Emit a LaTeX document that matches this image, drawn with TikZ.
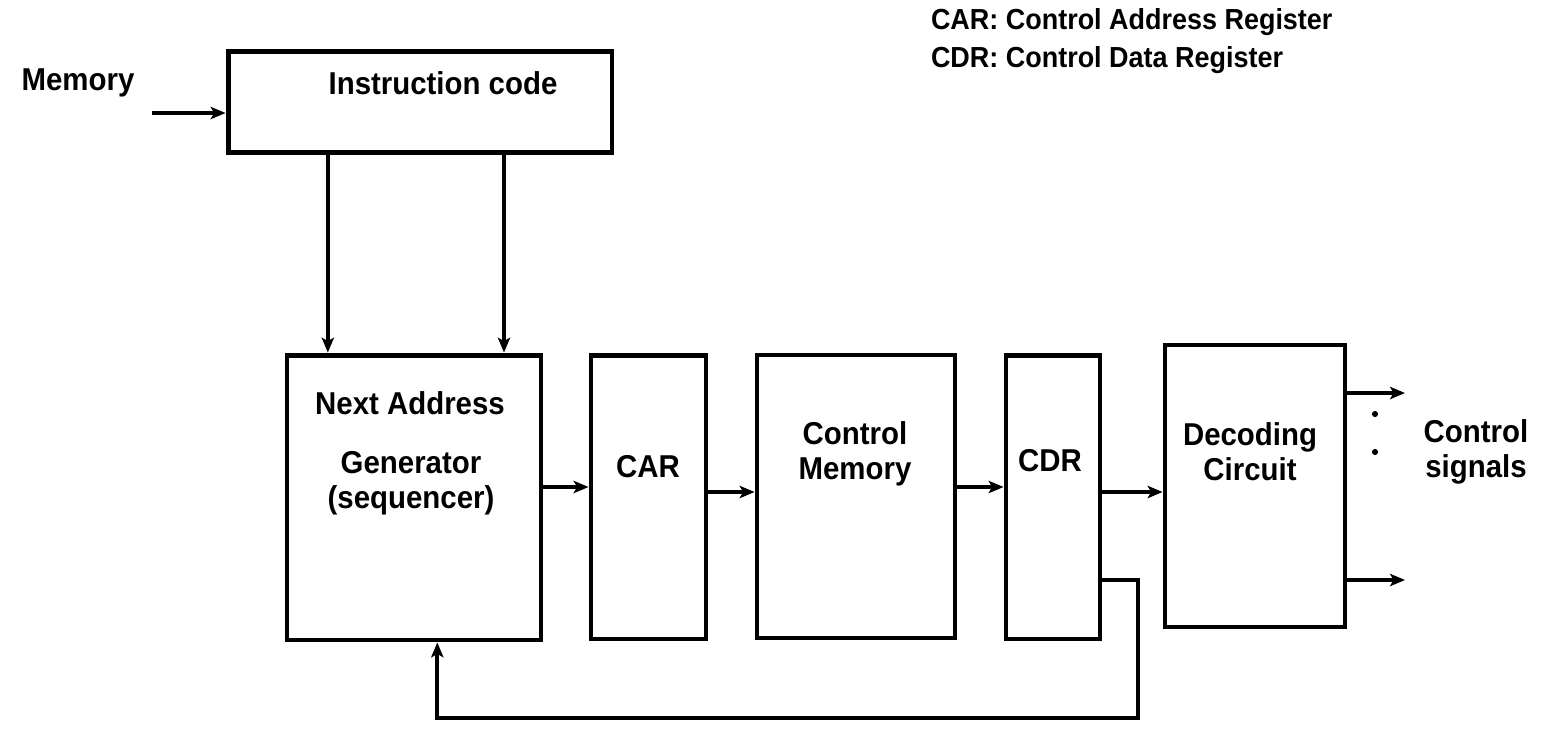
\documentclass[tikz,border=0pt]{standalone}
\usepackage{fontspec}
\setmainfont[FakeStretch=0.93]{Liberation Sans}
\usetikzlibrary{arrows,arrows.meta,positioning,calc}

\begin{document}
\begin{tikzpicture}[>={Stealth[length=8.5pt,width=7pt,inset=2pt]}, x=0.02cm, y=-0.02cm, line width=2.3pt,
    font=\fontsize{18}{20}\selectfont\bfseries]
  \tikzset{blk/.style={rectangle, draw=black, line width=2.8pt, inner sep=0pt},
           txt/.style={align=center, inner sep=0pt},
           dotn/.style={circle, fill=black, inner sep=0pt, minimum size=3.5pt}}
  \useasboundingbox (0,0) rectangle (1541,728);

  % blocks
  \node[blk, minimum width=7.68cm, minimum height=2.02cm] (instr) at (420,102) {};
  \node[blk, minimum width=5.08cm, minimum height=5.70cm] (nag) at (414,497.5) {};
  \node[blk, minimum width=2.30cm, minimum height=5.68cm] (car) at (648.5,497) {};
  \node[blk, minimum width=3.96cm, minimum height=5.66cm] (cm) at (856,496.5) {};
  \node[blk, minimum width=1.88cm, minimum height=5.68cm] (cdr) at (1053,497) {};
  \node[blk, minimum width=3.60cm, minimum height=5.64cm] (dec) at (1255,486) {};

  % texts
  \node[txt] (memt) at (78,83) {Memory};
  \node[txt] (instrt) at (443,83) {Instruction code};
  \node[txt] (nagt1) at (410,403) {Next Address};
  \node[txt] (nagt2) at (411,483.5) {Generator\\(sequencer)};
  \node[txt] (cart) at (648,467) {CAR};
  \node[txt] (cmt) at (855,454) {Control\\Memory};
  \node[txt] (cdrt) at (1050,461) {CDR};
  \node[txt] (dect) at (1250,452) {Decoding\\Circuit};
  \node[txt] (sigt) at (1476,452) {Control\\signals};
  \node[txt, align=left, anchor=west,
        font=\fontsize{16.5}{21.5}\selectfont\bfseries] (legend) at (929,41)
        {CAR: Control Address Register\\CDR: Control Data Register};

  \node[dotn] (dot1) at (1375,414) {};
  \node[dotn] (dot2) at (1375,452) {};

  % connectors
  \coordinate (memin) at (152,113);
  \coordinate (i1) at ($(instr.south west)!0.263!(instr.south east)$);
  \coordinate (i2) at ($(instr.south west)!0.716!(instr.south east)$);
  \coordinate (fbin) at ($(nag.south west)!0.59!(nag.south east)$);
  \coordinate (fb) at (1138,718);
  \coordinate (out1) at (1405,393);
  \coordinate (out2) at (1405,580);

  \draw[->] (memin) -- (memin -| instr.west);
  \draw[->] (i1) -- (i1 |- nag.north);
  \draw[->] (i2) -- (i2 |- nag.north);
  \draw[->] ([yshift=0.21cm]nag.east) -- ([yshift=0.21cm]nag.east -| car.west);
  \draw[->] ([yshift=0.1cm]car.east) -- ([yshift=0.1cm]car.east -| cm.west);
  \draw[->] ([yshift=0.19cm]cm.east) -- ([yshift=0.19cm]cm.east -| cdr.west);
  \draw[->] ([yshift=0.1cm]cdr.east) -- ([yshift=0.1cm]cdr.east -| dec.west);
  \draw[->] (out1 -| dec.east) -- (out1);
  \draw[->] (out2 -| dec.east) -- (out2);
  \draw[->] ([yshift=-1.66cm]cdr.east) -| (fb) -| (fbin);
\end{tikzpicture}
\end{document}
